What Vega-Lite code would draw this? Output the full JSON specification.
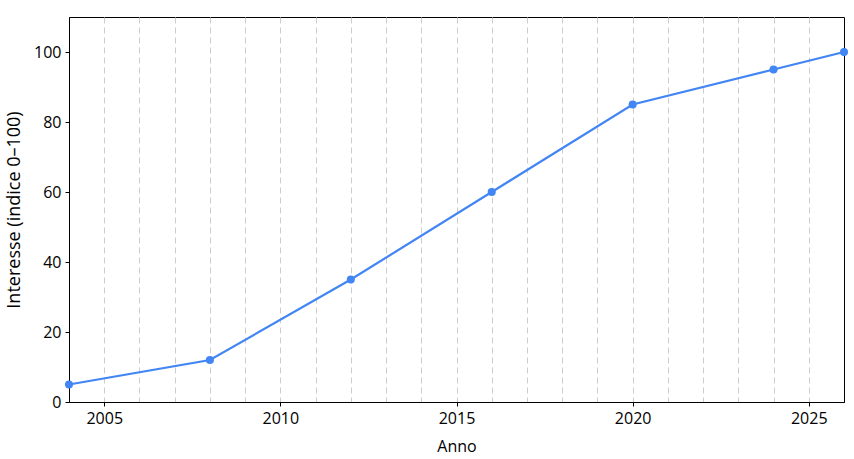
{
  "$schema": "https://vega.github.io/schema/vega-lite/v6.json",
  "width": 775,
  "height": 385,
  "autosize": {"type": "none"},
  "padding": {"left": 69, "top": 17, "right": 10, "bottom": 57},
  "background": "white",
  "data": {
    "values": [
      {"anno": 2004, "interesse": 5},
      {"anno": 2008, "interesse": 12},
      {"anno": 2012, "interesse": 35},
      {"anno": 2016, "interesse": 60},
      {"anno": 2020, "interesse": 85},
      {"anno": 2024, "interesse": 95},
      {"anno": 2026, "interesse": 100}
    ]
  },
  "layer": [
    {
      "mark": {"type": "line", "color": "#4285F4", "strokeWidth": 2.2, "clip": false},
      "encoding": {
        "x": {
          "field": "anno",
          "type": "quantitative",
          "scale": {"domain": [2004, 2026], "nice": false, "zero": false},
          "axis": {
            "orient": "bottom",
            "values": [2005, 2006, 2007, 2008, 2009, 2010, 2011, 2012, 2013, 2014, 2015, 2016, 2017, 2018, 2019, 2020, 2021, 2022, 2023, 2024, 2025],
            "grid": true,
            "gridDash": [6, 4],
            "gridColor": "#cccccc",
            "gridWidth": 1,
            "labels": false,
            "ticks": false,
            "domain": false,
            "title": null
          }
        },
        "y": {
          "field": "interesse",
          "type": "quantitative",
          "scale": {"domain": [0, 110], "nice": false},
          "axis": {
            "values": [0, 20, 40, 60, 80, 100],
            "grid": false,
            "title": "Interesse (indice 0–100)",
            "titleFontSize": 18,
            "titleFontWeight": "normal",
            "titlePadding": 10,
            "labelFontSize": 16,
            "labelPadding": 4
          }
        }
      }
    },
    {
      "mark": {"type": "point", "filled": true, "size": 65, "opacity": 1, "color": "#4285F4", "clip": false},
      "encoding": {
        "x": {
          "field": "anno",
          "type": "quantitative",
          "axis": {
            "orient": "bottom",
            "values": [2005, 2010, 2015, 2020, 2025],
            "format": "d",
            "grid": false,
            "title": "Anno",
            "titleFontSize": 16,
            "titleFontWeight": "normal",
            "titlePadding": 12,
            "labelFontSize": 16,
            "labelPadding": 4
          }
        },
        "y": {"field": "interesse", "type": "quantitative"}
      }
    }
  ],
  "resolve": {"axis": {"x": "independent"}},
  "config": {
    "font": "Open Sans",
    "view": {"stroke": "black", "strokeWidth": 1},
    "axis": {
      "domainColor": "black",
      "tickColor": "black",
      "tickSize": 4,
      "labelColor": "black",
      "titleColor": "black"
    }
  }
}
